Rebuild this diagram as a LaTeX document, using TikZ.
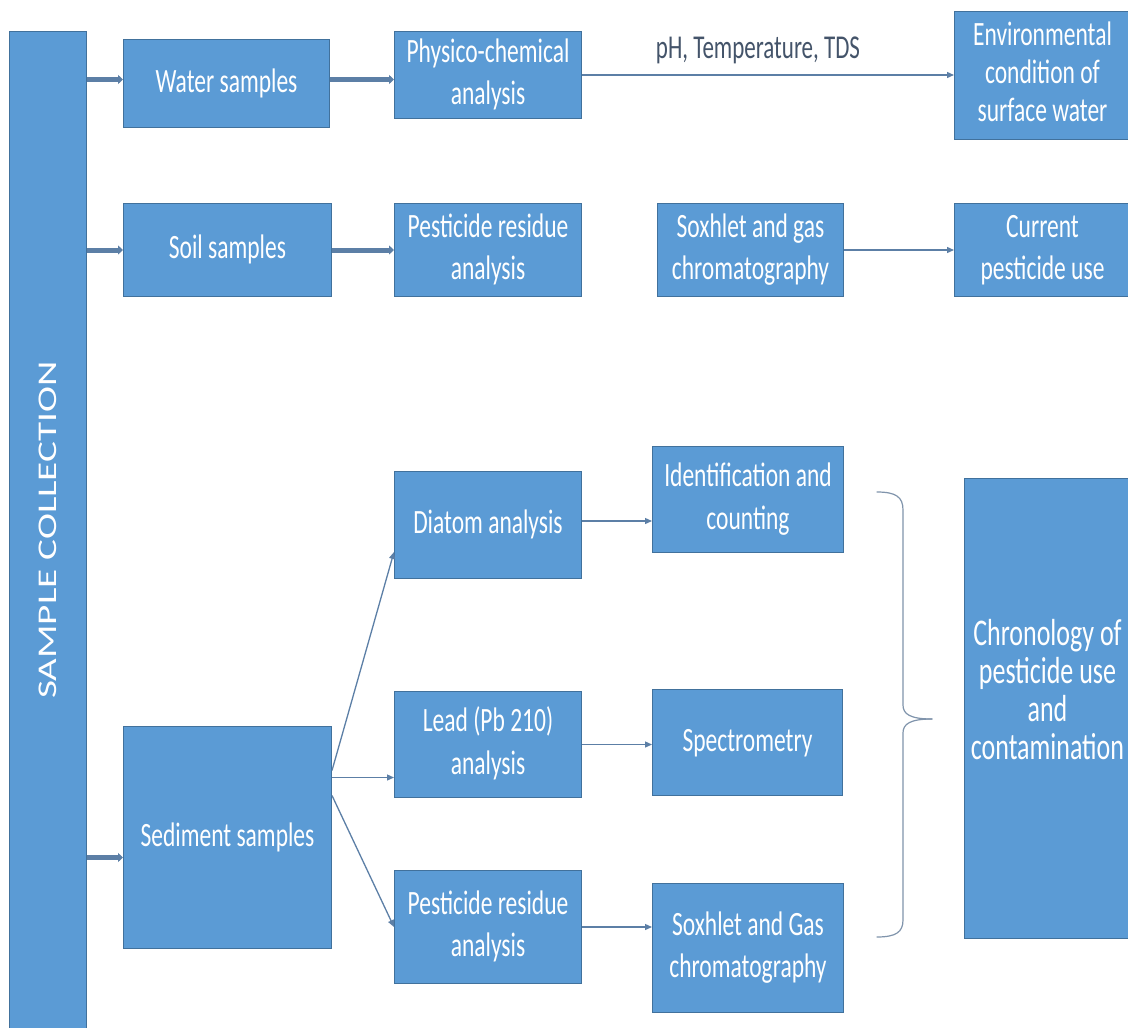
\documentclass[tikz,border=0pt]{standalone}
\usepackage{fontspec}
\setmainfont{Carlito}
\usetikzlibrary{arrows.meta,calc}

\definecolor{boxfill}{RGB}{91,155,213}
\definecolor{boxline}{RGB}{65,113,156}
\definecolor{linkc}{RGB}{92,127,166}
\definecolor{bracec}{RGB}{128,148,172}
\definecolor{labelc}{RGB}{68,84,106}

% box text: Calibri-like face, tall narrow set
\newcommand\btext[3]{\scalebox{1}[1.45]{\fontsize{#1}{#2}\selectfont\begin{tabular}{@{}c@{}}#3\end{tabular}}}

\tikzset{
  flowbox/.style={draw=boxline, line width=1pt, fill=boxfill, text=white,
    inner sep=0pt, anchor=north west},
  thicklink/.style={draw=linkc, line width=5pt,
    -{Triangle[length=5pt,width=9pt]}},
  thinlink/.style={draw=linkc, line width=1.3pt,
    -{Triangle[length=7pt,width=6pt]}},
  bracepath/.style={draw=bracec, line width=1.2pt, line cap=round},
}

\begin{document}
\begin{tikzpicture}[x=1pt,y=-1pt]
\useasboundingbox[fill=white] (0,0) rectangle (1128,1028);

% left column
\node[flowbox, minimum width=77pt, minimum height=1000pt] (bar) at (9,31) {};
\node[rotate=90, text=white] (sc) at (48,530)
  {\scalebox{1.45}[1]{\fontsize{27}{30}\selectfont SAMPLE COLLECTION}};

% sample boxes
\node[flowbox, minimum width=206pt, minimum height=88pt] (water) at (123,39)
  {\btext{23.5}{29.5}{Water samples}};
\node[flowbox, minimum width=208pt, minimum height=93pt] (soil) at (123,203)
  {\btext{23.5}{29.5}{Soil samples}};
\node[flowbox, minimum width=208pt, minimum height=222pt] (sed) at (123,726)
  {\btext{23.5}{29.5}{Sediment samples}};

% water branch
\node[flowbox, minimum width=187pt, minimum height=87pt] (phys) at (394,31)
  {\btext{23.5}{29.5}{Physico-chemical\\analysis}};
\node[flowbox, minimum width=176pt, minimum height=128pt] (env) at (954,11)
  {\btext{23.5}{26.2}{Environmental\\condition of\\surface water}};
\node[text=labelc] (phlabel) at (758,50)
  {\scalebox{1}[1.45]{\fontsize{23}{28}\selectfont pH, Temperature, TDS}};

% soil branch
\node[flowbox, minimum width=187pt, minimum height=93pt] (pestA) at (394,203)
  {\btext{23.5}{29.5}{Pesticide residue\\analysis}};
\node[flowbox, minimum width=186pt, minimum height=93pt] (soxA) at (657,203)
  {\btext{23.5}{29.5}{Soxhlet and gas\\chromatography}};
\node[flowbox, minimum width=176pt, minimum height=93pt] (current) at (954,203)
  {\btext{23.5}{29.5}{Current\\pesticide use}};

% sediment branch
\node[flowbox, minimum width=187pt, minimum height=107pt] (diatom) at (394,471)
  {\btext{23.5}{29.5}{Diatom analysis}};
\node[flowbox, minimum width=187pt, minimum height=106pt] (lead) at (394,691)
  {\btext{23.5}{29.5}{Lead (Pb 210)\\analysis}};
\node[flowbox, minimum width=187pt, minimum height=113pt] (pestB) at (394,870)
  {\btext{23.5}{29.5}{Pesticide residue\\analysis}};
\node[flowbox, minimum width=191pt, minimum height=106pt] (ident) at (652,446)
  {\btext{23.5}{29.5}{Identification and\\counting}};
\node[flowbox, minimum width=190pt, minimum height=106pt] (spec) at (652,689)
  {\btext{23.5}{29.5}{Spectrometry}};
\node[flowbox, minimum width=191pt, minimum height=129pt] (soxB) at (652,883)
  {\btext{23.5}{29.5}{Soxhlet and Gas\\chromatography}};
\node[flowbox, minimum width=166pt, minimum height=460pt] (chrono) at (964,478) {};
\node[text=white] (chronotext) at ($(chrono.center)+(0,-14)$)
  {\btext{26}{26.2}{Chronology of\\pesticide use\\and\\contamination}};

% attachment points on box edges
\coordinate (waterIn)  at ($(water.west)+(0,-4)$);
\coordinate (waterOut) at ($(water.east)+(0,-4)$);
\coordinate (sedIn)    at ($(sed.west)+(0,20)$);
\coordinate (sedOutA)  at ($(sed.east)+(0,-67)$);
\coordinate (sedOutB)  at ($(sed.east)+(0,-60)$);
\coordinate (sedOutC)  at ($(sed.east)+(0,-42)$);
\coordinate (diatomIn) at ($(diatom.west)+(0,27)$);
\coordinate (diatomOut) at ($(diatom.east)+(0,-4)$);
\coordinate (leadIn)   at ($(lead.west)+(0,33)$);

% collection links
\draw[thicklink] (waterIn -| bar.east) -- (waterIn);
\draw[thicklink] (soil.west -| bar.east) -- (soil.west);
\draw[thicklink] (sedIn -| bar.east) -- (sedIn);
\draw[thicklink] (waterOut) -- (waterOut -| phys.west);
\draw[thicklink] (soil.east) -- (pestA.west);

% analysis links
\draw[thinlink] (phys.east) -- (phys.east -| env.west);
\draw[thinlink] (soxA.east) -- (current.west);
\draw[thinlink] (sedOutA) -- (diatomIn);
\draw[thinlink] (sedOutB) -- (leadIn);
\draw[thinlink] (sedOutC) -- (pestB.west);
\draw[thinlink] (diatomOut) -- (diatomOut -| ident.west);
\draw[thinlink] (lead.east) -- (lead.east -| spec.west);
\draw[thinlink] (pestB.east) -- (pestB.east -| soxB.west);

% brace grouping the sediment results
\coordinate (brtop) at (877,492);
\coordinate (brtip) at (932,719);
\coordinate (brbot) at (877,937);
\draw[bracepath] (brtop) .. controls (896,492) and (903,497) .. (903,510)
  -- (903,705) .. controls (903,714) and (910,719) .. (brtip);
\draw[bracepath] (brtip) .. controls (910,719) and (903,724) .. (903,733)
  -- (903,920) .. controls (903,932) and (896,937) .. (brbot);
\end{tikzpicture}
\end{document}
